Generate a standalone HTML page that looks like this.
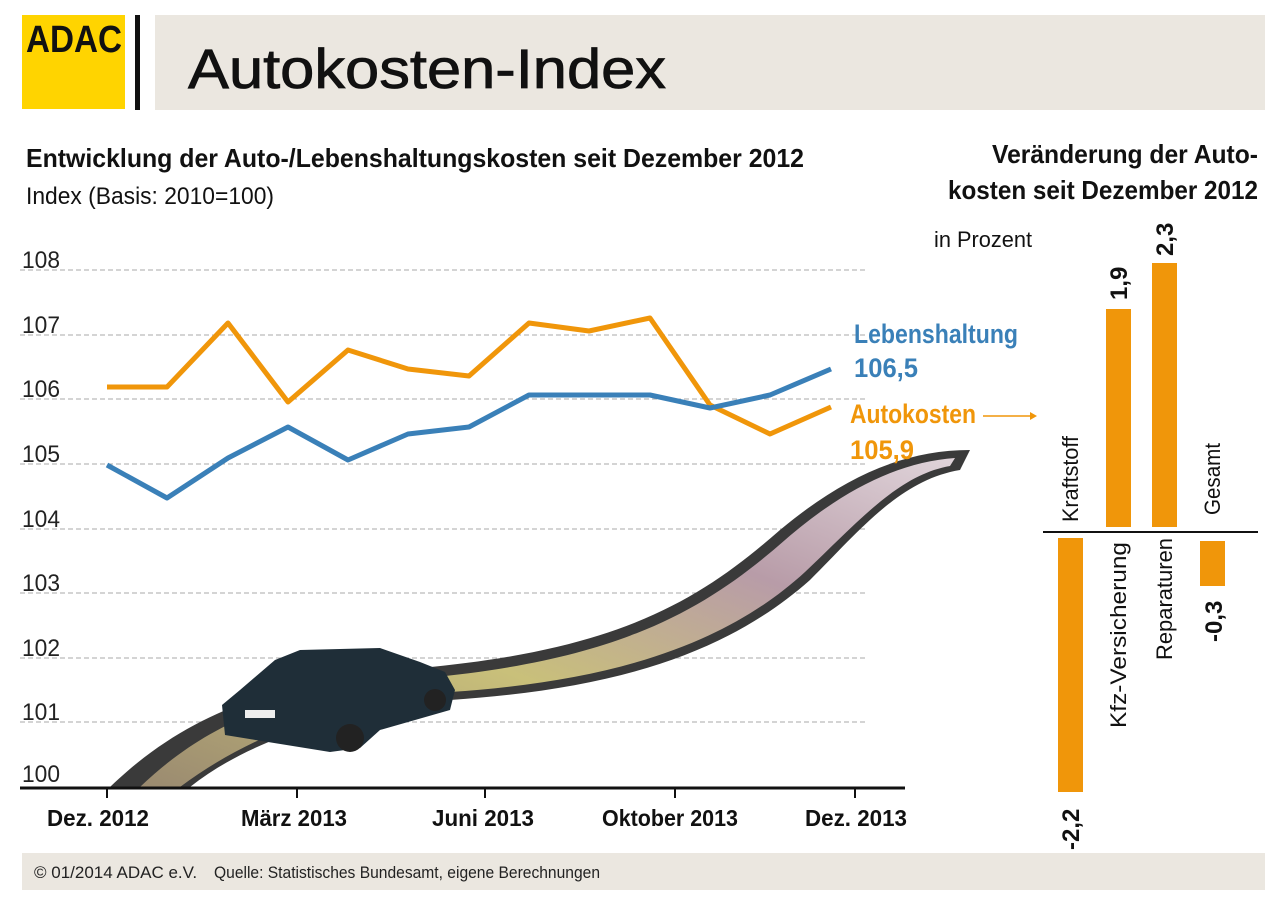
<!DOCTYPE html>
<html><head><meta charset="utf-8"><style>
body{margin:0;background:#fff;}
svg{display:block;font-family:"Liberation Sans Narrow","Liberation Sans",sans-serif;}
</style></head><body>
<svg width="1280" height="905" viewBox="0 0 1280 905" xmlns="http://www.w3.org/2000/svg">
<rect x="155" y="15" width="1110" height="95" fill="#ebe7e0"/>
<rect x="22" y="15" width="103" height="94" fill="#ffd400"/>
<text x="74" y="52" font-size="38" font-weight="bold" text-anchor="middle" fill="#111" textLength="96" lengthAdjust="spacingAndGlyphs">ADAC</text>
<rect x="135" y="15" width="5" height="95" fill="#111"/>
<text x="188" y="88" font-size="56" fill="#111" stroke="#111" stroke-width="0.8" textLength="478" lengthAdjust="spacingAndGlyphs">Autokosten-Index</text>
<text x="26" y="167" font-size="26" font-weight="bold" fill="#111" textLength="778" lengthAdjust="spacingAndGlyphs">Entwicklung der Auto-/Lebenshaltungskosten seit Dezember 2012</text>
<text x="26" y="204" font-size="24" fill="#111" textLength="248" lengthAdjust="spacingAndGlyphs">Index (Basis: 2010=100)</text>
<text x="1258" y="163" font-size="26" font-weight="bold" fill="#111" text-anchor="end" textLength="266" lengthAdjust="spacingAndGlyphs">Veränderung der Auto-</text>
<text x="1258" y="199" font-size="26" font-weight="bold" fill="#111" text-anchor="end" textLength="310" lengthAdjust="spacingAndGlyphs">kosten seit Dezember 2012</text>
<text x="934" y="247" font-size="22" fill="#111" textLength="98" lengthAdjust="spacingAndGlyphs">in Prozent</text>
<g stroke="#aaa" stroke-width="1" stroke-dasharray="5,3">
<line x1="20" x2="865" y1="270" y2="270"/><line x1="20" x2="865" y1="335" y2="335"/>
<line x1="20" x2="865" y1="399" y2="399"/><line x1="20" x2="865" y1="464" y2="464"/>
<line x1="20" x2="865" y1="529" y2="529"/><line x1="20" x2="865" y1="593" y2="593"/>
<line x1="20" x2="865" y1="658" y2="658"/><line x1="20" x2="865" y1="722" y2="722"/>
</g>
<g font-size="24" fill="#222">
<text x="22" y="268" textLength="38" lengthAdjust="spacingAndGlyphs">108</text><text x="22" y="333" textLength="38" lengthAdjust="spacingAndGlyphs">107</text><text x="22" y="397" textLength="38" lengthAdjust="spacingAndGlyphs">106</text>
<text x="22" y="462" textLength="38" lengthAdjust="spacingAndGlyphs">105</text><text x="22" y="527" textLength="38" lengthAdjust="spacingAndGlyphs">104</text><text x="22" y="591" textLength="38" lengthAdjust="spacingAndGlyphs">103</text>
<text x="22" y="656" textLength="38" lengthAdjust="spacingAndGlyphs">102</text><text x="22" y="720" textLength="38" lengthAdjust="spacingAndGlyphs">101</text><text x="22" y="782" textLength="38" lengthAdjust="spacingAndGlyphs">100</text>
</g>
<defs><linearGradient id="rg" x1="0" y1="1" x2="1" y2="0">
<stop offset="0" stop-color="#9a8a70"/><stop offset="0.4" stop-color="#c9c07a"/><stop offset="0.7" stop-color="#b89ca8"/><stop offset="1" stop-color="#e0d4da"/></linearGradient></defs>
<path d="M110 787 C200 700 300 680 420 668 C620 650 700 600 780 530 C840 480 900 450 970 450 L960 470 C900 480 860 530 810 580 C720 660 600 690 450 700 C330 715 250 740 190 787 Z" fill="#3a3a3a"/>
<path d="M140 787 C220 710 310 688 425 678 C620 660 705 610 785 540 C845 488 900 462 955 458 L950 466 C898 475 858 522 805 572 C720 650 600 682 450 692 C330 705 250 735 180 787 Z" fill="url(#rg)"/>
<path d="M222 705 L240 690 L275 660 L300 650 L380 648 L420 662 L445 672 L455 690 L450 710 L380 730 L360 748 L330 752 L225 735 Z" fill="#1f2e38"/>
<circle cx="350" cy="738" r="14" fill="#222"/><circle cx="435" cy="700" r="11" fill="#222"/>
<rect x="245" y="710" width="30" height="8" fill="#eee"/>
<line x1="20" y1="788" x2="905" y2="788" stroke="#111" stroke-width="3"/>
<g stroke="#111" stroke-width="2"><line x1="107" y1="788" x2="107" y2="798"/><line x1="297" y1="788" x2="297" y2="798"/><line x1="485" y1="788" x2="485" y2="798"/><line x1="675" y1="788" x2="675" y2="798"/><line x1="855" y1="788" x2="855" y2="798"/></g>
<g font-size="23" font-weight="bold" fill="#111" text-anchor="middle">
<text x="98" y="826" textLength="102" lengthAdjust="spacingAndGlyphs">Dez. 2012</text><text x="294" y="826" textLength="106" lengthAdjust="spacingAndGlyphs">März 2013</text><text x="483" y="826" textLength="102" lengthAdjust="spacingAndGlyphs">Juni 2013</text><text x="670" y="826" textLength="136" lengthAdjust="spacingAndGlyphs">Oktober 2013</text><text x="856" y="826" textLength="102" lengthAdjust="spacingAndGlyphs">Dez. 2013</text>
</g>
<polyline fill="none" stroke="#f0960a" stroke-width="5" stroke-linejoin="round" points="107,387 167,387 228,323 288,402 348,350 408,369 469,376 529,323 589,331 650,318 710,405 770,434 831,407"/>
<polyline fill="none" stroke="#3a80b8" stroke-width="5" stroke-linejoin="round" points="107,465 167,498 228,458 288,427 348,460 408,434 469,427 529,395 589,395 650,395 710,408 770,395 831,369"/>
<text x="854" y="343" font-size="27" font-weight="bold" fill="#3a80b8" textLength="164" lengthAdjust="spacingAndGlyphs">Lebenshaltung</text>
<text x="854" y="377" font-size="27" font-weight="bold" fill="#3a80b8" textLength="64" lengthAdjust="spacingAndGlyphs">106,5</text>
<text x="850" y="423" font-size="27" font-weight="bold" fill="#f0960a" textLength="126" lengthAdjust="spacingAndGlyphs">Autokosten</text>
<text x="850" y="459" font-size="27" font-weight="bold" fill="#f0960a" textLength="64" lengthAdjust="spacingAndGlyphs">105,9</text>
<line x1="983" y1="416" x2="1030" y2="416" stroke="#f0960a" stroke-width="1.5"/>
<path d="M1030 412 L1037 416 L1030 420Z" fill="#f0960a"/>
<rect x="1058" y="538" width="25" height="254" fill="#f0960a"/>
<rect x="1106" y="309" width="25" height="218" fill="#f0960a"/>
<rect x="1152" y="263" width="25" height="264" fill="#f0960a"/>
<rect x="1200" y="541" width="25" height="45" fill="#f0960a"/>
<line x1="1043" y1="532" x2="1258" y2="532" stroke="#111" stroke-width="2"/>
<g font-size="22" fill="#111">
<text transform="translate(1078,522) rotate(-90)" textLength="86" lengthAdjust="spacingAndGlyphs">Kraftstoff</text>
<text transform="translate(1126,728) rotate(-90)" textLength="186" lengthAdjust="spacingAndGlyphs">Kfz-Versicherung</text>
<text transform="translate(1172,660) rotate(-90)" textLength="122" lengthAdjust="spacingAndGlyphs">Reparaturen</text>
<text transform="translate(1220,515) rotate(-90)" textLength="72" lengthAdjust="spacingAndGlyphs">Gesamt</text>
</g>
<g font-size="24" font-weight="bold" fill="#111">
<text transform="translate(1079,850) rotate(-90)">-2,2</text>
<text transform="translate(1127,300) rotate(-90)">1,9</text>
<text transform="translate(1173,256) rotate(-90)">2,3</text>
<text transform="translate(1222,642) rotate(-90)">-0,3</text>
</g>
<rect x="22" y="853" width="1243" height="37" fill="#ebe7e0"/>
<text x="34" y="878" font-size="17" fill="#222">© 01/2014  ADAC e.V.</text>
<text x="214" y="878" font-size="17" fill="#222" textLength="386" lengthAdjust="spacingAndGlyphs">Quelle: Statistisches Bundesamt, eigene Berechnungen</text>
</svg>
</body></html>
